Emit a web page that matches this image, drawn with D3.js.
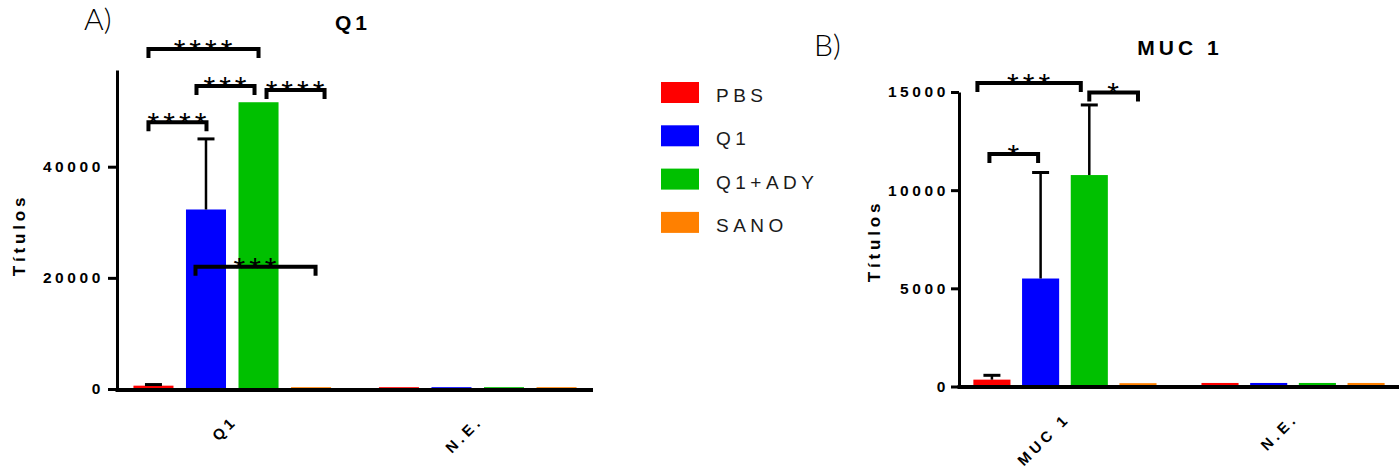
<!DOCTYPE html>
<html>
<head>
<meta charset="utf-8">
<script src="https://cdn.jsdelivr.net/npm/d3@7"></script>
<style>
  html, body { margin: 0; padding: 0; background: #fff; }
  svg { display: block; font-family: "Liberation Sans", Arial, sans-serif; }
</style>
</head>
<body>
<svg id="chart" width="1399" height="471"></svg>
<script>
// --- data ---
const seriesNames = ["PBS", "Q1", "Q1+ADY", "SANO"]
const seriesColors = ["#ff0000", "#0000ff", "#00c000", "#ff8000"]

const groupsA = ["Q1", "N.E."]
const q1Means = [600, 32300, 51600, 330]
const q1Sd = [200, 12700, 0, 0]
const q1NeMeans = [330, 330, 330, 330]
const ticksA = [0, 20000, 40000]

const groupsB = ["MUC 1", "N.E."]
const mucMeans = [350, 5500, 10770, 170]
const mucSd = [220, 5400, 3570, 0]
const mucNeMeans = [180, 180, 180, 180]
const ticksB = [0, 5000, 10000, 15000]

// significance brackets: from / to series index, height in data units
const bracketsA = [
  { from: 0, to: 1, y: 48000, label: "****" },
  { from: 0, to: 2, y: 61200, label: "****" },
  { from: 1, to: 2, y: 54500, label: "***" },
  { from: 2, to: 3, y: 53800, label: "****" },
  { from: 1, to: 3, y: 22000, label: "***" }
]
const bracketsB = [
  { from: 0, to: 1, y: 11840, label: "*" },
  { from: 0, to: 2, y: 15460, label: "***" },
  { from: 2, to: 3, y: 14980, label: "*" }
]

// small pixel nudges of bracket ends (layout only)
const nudgeA = [[-5, 0.5], [-5, 0], [-9.5, -4], [8, 13.5], [-10.5, 4.5]]
const nudgeB = [[-2.5, -2.5], [-14.5, -8.5], [0, 0]]

const svg = d3.select("#chart")

function drawPanel(opts) {
  const g = svg.append("g")
  const x0 = d3.scaleBand()
    .domain(opts.groups)
    .range([opts.left, opts.right])
    .paddingInner(opts.padInner)
    .paddingOuter(opts.padOuter)
  const x1 = d3.scaleBand()
    .domain(seriesNames)
    .range([0, x0.bandwidth()])
    .paddingInner(0.238)
    .paddingOuter(0)
  const y = d3.scaleLinear()
    .domain(opts.yDomain)
    .range([opts.bottom, opts.top])

  const rows = opts.groups.map((grp, gi) => ({ grp, values: opts.means[gi], sd: opts.sd[gi] }))

  // bars
  const groupSel = g.selectAll("g.grp")
    .data(rows)
    .join("g")
      .attr("class", "grp")
      .attr("transform", d => `translate(${x0(d.grp)},0)`)

  groupSel.selectAll("rect")
    .data(d => d.values.map((v, i) => ({ name: seriesNames[i], v, i })))
    .join("rect")
      .attr("x", d => x1(d.name))
      .attr("y", d => y(d.v))
      .attr("width", x1.bandwidth())
      .attr("height", d => y(0) - y(d.v))
      .attr("fill", d => seriesColors[d.i])

  // error bars (upper only)
  const errs = groupSel.selectAll("g.err")
    .data(d => d.values.map((v, i) => ({ name: seriesNames[i], v, sd: d.sd[i] })).filter(e => e.sd > 0))
    .join("g")
      .attr("class", "err")
  errs.append("line")
    .attr("x1", d => x1(d.name) + x1.bandwidth() / 2)
    .attr("x2", d => x1(d.name) + x1.bandwidth() / 2)
    .attr("y1", d => y(d.v))
    .attr("y2", d => y(d.v + d.sd))
    .attr("stroke", "#000")
    .attr("stroke-width", 2.5)
  errs.append("line")
    .attr("x1", d => x1(d.name) + x1.bandwidth() / 2 - 8.5)
    .attr("x2", d => x1(d.name) + x1.bandwidth() / 2 + 8.5)
    .attr("y1", d => y(d.v + d.sd))
    .attr("y2", d => y(d.v + d.sd))
    .attr("stroke", "#000")
    .attr("stroke-width", 3)

  // y axis
  const yAxis = g.append("g")
    .attr("transform", `translate(${opts.left},0)`)
    .call(d3.axisLeft(y).tickValues(opts.ticks).tickSize(opts.tickLen).tickSizeOuter(0).tickPadding(opts.tickPad).tickFormat(d3.format("d")))
  yAxis.select(".domain").attr("stroke-width", 3)
  yAxis.selectAll(".tick line").attr("stroke-width", 3)
  yAxis.selectAll(".tick text")
    .attr("font-size", 15.5)
    .attr("font-weight", "bold")
    .attr("font-family", "Liberation Sans, Arial, sans-serif")
    .attr("fill", "#000")
    .style("letter-spacing", "3.6px")

  // x axis line
  g.append("line")
    .attr("x1", opts.left - 1.5)
    .attr("x2", opts.axisEnd)
    .attr("y1", y(0) + opts.axisShift)
    .attr("y2", y(0) + opts.axisShift)
    .attr("stroke", "#000")
    .attr("stroke-width", 4)

  // x category labels
  g.selectAll("text.xlab")
    .data(opts.groups)
    .join("text")
      .attr("class", "xlab")
      .attr("transform", d => `translate(${x0(d) + x0.bandwidth() / 2 + 6},${y(0) + 33}) rotate(-45)`)
      .attr("text-anchor", "end")
      .attr("font-size", 15)
      .attr("font-weight", "bold")
      .style("letter-spacing", "4px")
      .text(d => d)

  // brackets
  const cx = (grp, i) => x0(grp) + x1(seriesNames[i]) + x1.bandwidth() / 2
  const br = g.selectAll("g.br")
    .data(opts.brackets.map((b, k) => ({ ...b, n: opts.nudge[k] })))
    .join("g")
      .attr("class", "br")
  br.append("path")
    .attr("d", d => {
      const xa = cx(opts.groups[0], d.from) + d.n[0]
      const xb = cx(opts.groups[0], d.to) + d.n[1]
      const yy = y(d.y)
      return `M${xa},${yy + 9}V${yy}H${xb}V${yy + 9}`
    })
    .attr("fill", "none")
    .attr("stroke", "#000")
    .attr("stroke-width", 4)
  br.append("text")
    .attr("x", d => (cx(opts.groups[0], d.from) + d.n[0] + cx(opts.groups[0], d.to) + d.n[1]) / 2 + 1.5)
    .attr("y", d => y(d.y) + 11)
    .attr("text-anchor", "middle")
    .attr("font-size", 30)
    .style("letter-spacing", "4px")
    .text(d => d.label)

  // title
  g.append("text")
    .attr("x", opts.titleX)
    .attr("y", opts.titleY)
    .attr("text-anchor", "middle")
    .attr("font-size", 21)
    .attr("font-weight", "bold")
    .style("letter-spacing", "4px")
    .text(opts.title)

  // y axis label
  g.append("text")
    .attr("transform", `translate(${opts.yLabelX},${opts.yLabelY}) rotate(-90)`)
    .attr("text-anchor", "middle")
    .attr("font-size", 17)
    .attr("font-weight", "bold")
    .style("letter-spacing", "3.8px")
    .text("Títulos")

  // panel letter
  g.append("text")
    .attr("x", opts.letterX)
    .attr("y", opts.letterY)
    .attr("font-size", 30)
    .attr("font-weight", 300)
    .attr("font-family", "Lato, 'Open Sans', sans-serif")
    .text(opts.letter)
}

drawPanel({
  groups: groupsA, means: [q1Means, q1NeMeans], sd: [q1Sd, [0, 0, 0, 0]],
  left: 117, right: 593, axisEnd: 593, padInner: 0.195, padOuter: 0.067,
  top: 70, bottom: 389, yDomain: [0, 57400], ticks: ticksA, tickLen: 9, tickPad: 4,
  axisShift: 1,
  brackets: bracketsA, nudge: nudgeA,
  title: "Q1", titleX: 353, titleY: 30,
  yLabelX: 25, yLabelY: 235,
  letter: "A)", letterX: 84, letterY: 30
})

drawPanel({
  groups: groupsB, means: [mucMeans, mucNeMeans], sd: [mucSd, [0, 0, 0, 0]],
  left: 959, right: 1399, axisEnd: 1399, padInner: 0.197, padOuter: 0.063,
  top: 92, bottom: 386.5, yDomain: [0, 15000], ticks: ticksB, tickLen: 8, tickPad: 2,
  axisShift: 0.5,
  brackets: bracketsB, nudge: nudgeB,
  title: "MUC 1", titleX: 1180, titleY: 55,
  yLabelX: 880, yLabelY: 241,
  letter: "B)", letterX: 814, letterY: 56
})

// legend
const legend = svg.append("g").attr("transform", "translate(661,82)")
const legRows = legend.selectAll("g")
  .data(seriesNames)
  .join("g")
    .attr("transform", (d, i) => `translate(0,${i * 43.3})`)
legRows.append("rect")
  .attr("width", 38)
  .attr("height", 21)
  .attr("fill", (d, i) => seriesColors[i])
legRows.append("text")
  .attr("x", 55)
  .attr("y", 20)
  .attr("font-size", 19)
  .attr("fill", "#1a1a1a")
  .style("letter-spacing", "4.5px")
  .text(d => d)
</script>
</body>
</html>
